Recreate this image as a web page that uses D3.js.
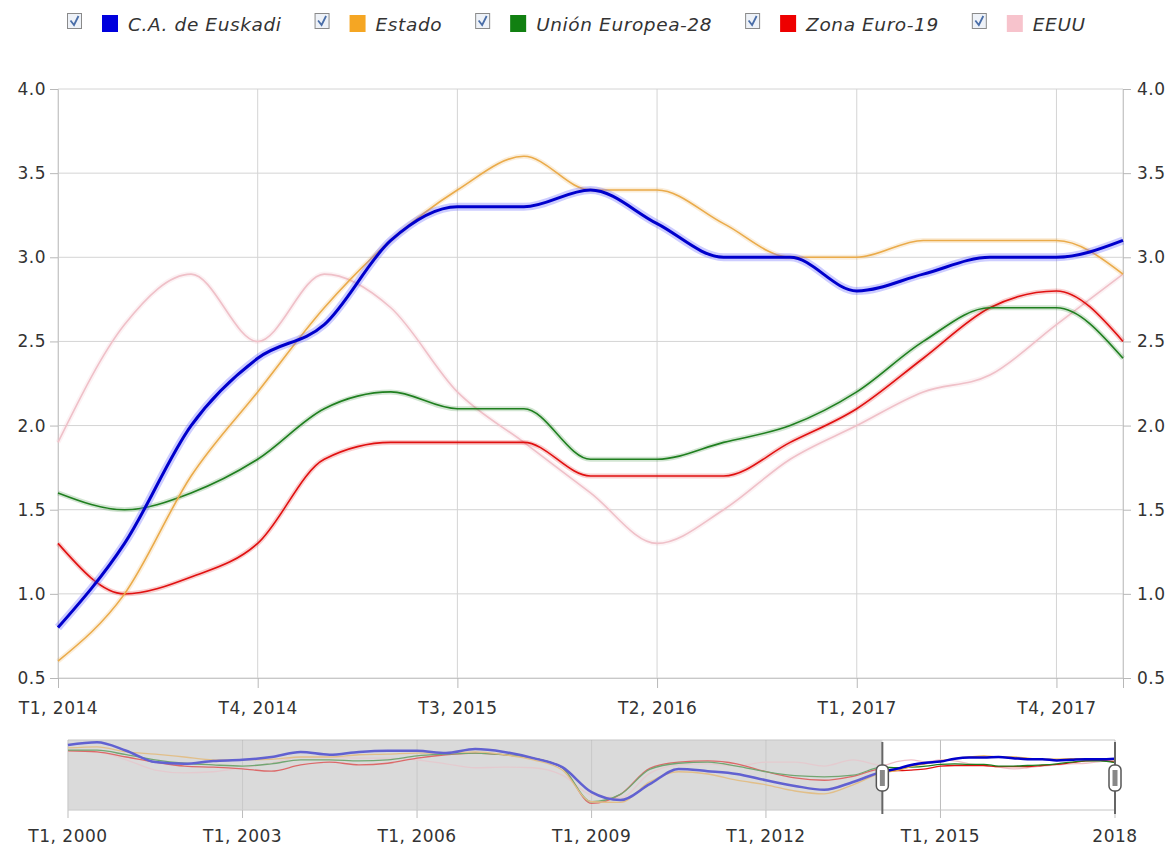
<!DOCTYPE html>
<html>
<head>
<meta charset="utf-8">
<script src="https://cdn.jsdelivr.net/npm/d3@7"></script>
<style>
  body { margin: 0; background: #fff; }
  svg text { font-family: "DejaVu Sans", Verdana, sans-serif; fill: #333; }
</style>
</head>
<body>
<svg id="chart" width="1174" height="845"></svg>
<script>
// main period shown (quarters)
const quarters = ["T1, 2014","T2, 2014","T3, 2014","T4, 2014","T1, 2015","T2, 2015","T3, 2015","T4, 2015",
  "T1, 2016","T2, 2016","T3, 2016","T4, 2016","T1, 2017","T2, 2017","T3, 2017","T4, 2017","T1, 2018"]

const euskadi = [0.8,1.3,2.0,2.4,2.6,3.1,3.3,3.3,3.4,3.2,3.0,3.0,2.8,2.9,3.0,3.0,3.1]
const estado  = [0.6,1.0,1.7,2.2,2.7,3.1,3.4,3.6,3.4,3.4,3.2,3.0,3.0,3.1,3.1,3.1,2.9]
const ue28    = [1.6,1.5,1.6,1.8,2.1,2.2,2.1,2.1,1.8,1.8,1.9,2.0,2.2,2.5,2.7,2.7,2.4]
const euro19  = [1.3,1.0,1.1,1.3,1.8,1.9,1.9,1.9,1.7,1.7,1.7,1.9,2.1,2.4,2.7,2.8,2.5]
const eeuu    = [1.9,2.6,2.9,2.5,2.9,2.7,2.2,1.9,1.6,1.3,1.5,1.8,2.0,2.2,2.3,2.6,2.9]

// earlier history, only in the navigator (read every half year)
const histPeriods = ["T1, 2000","T3, 2000","T1, 2001","T3, 2001","T1, 2002","T3, 2002","T1, 2003","T3, 2003",
  "T1, 2004","T3, 2004","T1, 2005","T3, 2005","T1, 2006","T3, 2006","T1, 2007","T3, 2007",
  "T1, 2008","T3, 2008","T1, 2009","T3, 2009","T1, 2010","T3, 2010","T1, 2011","T3, 2011",
  "T1, 2012","T3, 2012","T1, 2013","T3, 2013"]
const histEuskadi = [5.5,6.0,4.5,2.5,2.2,2.7,2.9,3.4,4.3,3.8,4.3,4.5,4.5,4.1,4.8,4.3,3.2,1.6,-2.8,-4.2,-1.4,1.3,0.9,0.4,-0.7,-1.7,-2.4,-1.0]
const histEstado  = [5.0,5.2,4.3,3.9,3.4,2.9,2.9,3.0,3.4,3.4,3.8,3.9,4.1,4.1,4.3,3.8,2.9,1.1,-4.5,-4.6,-1.0,0.8,0.4,-0.7,-1.5,-2.6,-3.1,-1.5]
const histUe28    = [4.6,4.6,3.8,2.9,2.3,2.0,1.8,2.2,2.9,2.9,2.7,2.9,3.6,3.9,4.1,3.8,3.2,1.5,-4.5,-3.2,1.2,2.3,2.5,1.8,0.8,0.1,-0.1,0.2]
const histEuro19  = [4.5,4.3,3.4,2.5,1.8,1.6,1.3,0.9,2.0,2.5,2.0,2.3,3.2,3.8,4.1,3.8,3.2,1.5,-4.8,-3.2,1.4,2.5,2.7,2.2,0.8,-0.3,-0.7,0.0]
const histEeuu    = [4.5,4.3,2.9,1.1,0.6,0.8,1.5,2.3,3.4,3.4,3.2,3.2,2.9,2.2,1.5,1.6,1.5,0.2,-3.3,-3.8,0.5,2.0,2.2,1.8,2.5,2.5,1.8,2.9]

const seriesNames = ["C.A. de Euskadi","Estado","Unión Europea-28","Zona Euro-19","EEUU"]
const yTicks = [0.5,1.0,1.5,2.0,2.5,3.0,3.5,4.0]
const navTickLabels = ["T1, 2000","T1, 2003","T1, 2006","T1, 2009","T1, 2012","T1, 2015","2018"]
const navTickYears = [2000,2003,2006,2009,2012,2015,2018]

const colors = ["#0000cc","#eaab4a","#1f7f1f","#e01010","#efc0c8"]
const legendColors = ["#0000dd","#f5a623","#118011","#ee0000","#f7c3cc"]

let series = seriesNames.map((name, i) => ({
  name: name,
  color: colors[i],
  values: [euskadi, estado, ue28, euro19, eeuu][i],
  hist: [histEuskadi, histEstado, histUe28, histEuro19, histEeuu][i]
}))

function toDate(label) {
  let q = +label[1]
  let yr = +label.slice(4)
  return new Date(yr, (q - 1) * 3, 1)
}

let svg = d3.select("#chart")
let margin = { top: 89, right: 1123, bottom: 678, left: 58 }

let x = d3.scalePoint().domain(quarters).range([margin.left, margin.right])
let y = d3.scaleLinear().domain([0.5, 4]).range([margin.bottom, margin.top])

// grid
svg.append("g").selectAll("line").data(yTicks).join("line")
  .attr("x1", margin.left).attr("x2", margin.right)
  .attr("y1", d => y(d)).attr("y2", d => y(d))
  .style("stroke", "#d4d4d4")

let labelled = quarters.filter((d, i) => i % 3 == 0)
svg.append("g").selectAll("line").data(labelled.concat([quarters[quarters.length - 1]])).join("line")
  .attr("x1", d => x(d)).attr("x2", d => x(d))
  .attr("y1", margin.top).attr("y2", margin.bottom)
  .style("stroke", "#d4d4d4")

// axes
let yLeft = svg.append("g")
  .attr("transform", `translate(${margin.left},0)`)
  .call(d3.axisLeft(y).tickValues(yTicks).tickFormat(d3.format(".1f")).tickSize(8).tickPadding(4))
let yRight = svg.append("g")
  .attr("transform", `translate(${margin.right},0)`)
  .call(d3.axisRight(y).tickValues(yTicks).tickFormat(d3.format(".1f")).tickSize(8).tickPadding(6))
let xAxis = svg.append("g")
  .attr("transform", `translate(0,${margin.bottom})`)
  .call(d3.axisBottom(x).tickValues(labelled.concat([quarters[quarters.length - 1]]))
    .tickFormat(d => d == quarters[quarters.length - 1] ? "" : d).tickSize(10).tickPadding(14))

for (let ax of [yLeft, yRight, xAxis]) {
  ax.select(".domain").style("stroke", "#c8c8c8")
  ax.selectAll(".tick line").style("stroke", "#b8b8b8")
  ax.selectAll("text").style("font-size", "17px").style("fill", "#333")
    .style("letter-spacing", "0.5px")
    .style("font-family", '"DejaVu Sans", Verdana, sans-serif')
}

// lines
let line = d3.line()
  .x((d, i) => x(quarters[i]))
  .y(d => y(d))
  .curve(d3.curveMonotoneX)

let drawOrder = [4, 3, 2, 1, 0]
let lines = svg.append("g")
drawOrder.forEach(i => {
  let s = series[i]
  let wide = i == 0
  lines.append("path")
    .attr("d", line(s.values))
    .style("fill", "none")
    .style("stroke", i == 0 ? "#7070ff" : s.color)
    .style("stroke-opacity", wide ? 0.35 : 0.2)
    .style("stroke-width", wide ? 8 : 5)
  lines.append("path")
    .attr("d", line(s.values))
    .style("fill", "none")
    .style("stroke", s.color)
    .style("stroke-width", wide ? 3 : 1.6)
})

// legend
let legend = svg.append("g").attr("transform", "translate(0,22)")
let lx = 67
series.forEach((s, i) => {
  let g = legend.append("g").attr("transform", `translate(${lx},0)`)
  g.append("rect").attr("x", 0.5).attr("y", -8.5).attr("width", 14).attr("height", 15)
    .style("fill", "#eef2f8").style("stroke", "#8a8a8a")
  g.append("path").attr("d", "M3.5,-1.5 L7,3 L11.5,-6")
    .style("fill", "none").style("stroke", "#4a6ea8").style("stroke-width", 1.8)
  g.append("rect").attr("x", 35).attr("y", -7).attr("width", 16).attr("height", 17)
    .style("fill", legendColors[i])
  let t = g.append("text").attr("x", 61).attr("y", 9)
    .style("font-size", "18.5px").style("font-style", "italic").style("fill", "#333")
    .style("letter-spacing", "0.6px")
    .text(s.name)
  lx += 61 + t.node().getComputedTextLength() + 33
})

// navigator
let nav = { top: 740, bottom: 810, left: 68, right: 1115 }
let nx = d3.scaleTime().domain([new Date(2000, 0, 1), new Date(2018, 0, 1)]).range([nav.left, nav.right])
let ny = d3.scaleLinear().domain([-5.6, 6.4]).range([808, nav.top])
let selStart = nx(toDate(quarters[0]))

let navG = svg.append("g")
navG.append("rect").attr("x", nav.left).attr("y", nav.top)
  .attr("width", selStart - nav.left).attr("height", nav.bottom - nav.top)
  .style("fill", "#dcdcdc")

navG.selectAll(".navgrid").data(navTickYears).join("line")
  .attr("x1", d => nx(new Date(d, 0, 1))).attr("x2", d => nx(new Date(d, 0, 1)))
  .attr("y1", nav.top).attr("y2", 818)
  .style("stroke", "#bdbdbd")

navG.append("line").attr("x1", nav.left).attr("x2", nav.right)
  .attr("y1", nav.top).attr("y2", nav.top).style("stroke", "#c4c4c4")
navG.append("line").attr("x1", nav.left).attr("x2", nav.right)
  .attr("y1", nav.bottom).attr("y2", nav.bottom).style("stroke", "#c4c4c4")

let navLine = d3.line()
  .x(d => nx(d.date))
  .y(d => ny(d.value))
  .curve(d3.curveMonotoneX)

drawOrder.forEach(i => {
  let s = series[i]
  let pts = histPeriods.map((p, j) => ({ date: toDate(p), value: s.hist[j] }))
    .concat(quarters.map((p, j) => ({ date: toDate(p), value: s.values[j] })))
  navG.append("path")
    .attr("d", navLine(pts))
    .style("fill", "none")
    .style("stroke", s.color)
    .style("stroke-width", i == 0 ? 2.5 : 1.3)
})

// mask over unselected part
navG.append("rect").attr("x", nav.left).attr("y", nav.top + 1)
  .attr("width", selStart - nav.left).attr("height", nav.bottom - nav.top - 1)
  .style("fill", "rgba(215,215,215,0.45)")

// handles
;[selStart, nx(toDate(quarters[quarters.length - 1]))].forEach(hx => {
  navG.append("line").attr("x1", hx).attr("x2", hx).attr("y1", 742).attr("y2", 814)
    .style("stroke", "#666").style("stroke-width", 2)
  navG.append("rect").attr("x", hx - 6).attr("y", 765).attr("width", 12).attr("height", 26)
    .attr("rx", 5).style("fill", "#fff").style("stroke", "#555").style("stroke-width", 1.5)
  navG.append("rect").attr("x", hx - 2.5).attr("y", 770).attr("width", 5).attr("height", 16)
    .style("fill", "#888")
})

navG.selectAll(".navlabel").data(navTickYears).join("text")
  .attr("x", d => nx(new Date(d, 0, 1)))
  .attr("y", 842)
  .attr("text-anchor", "middle")
  .style("font-size", "17px")
  .style("letter-spacing", "0.5px")
  .text((d, i) => navTickLabels[i])
</script>
</body>
</html>
